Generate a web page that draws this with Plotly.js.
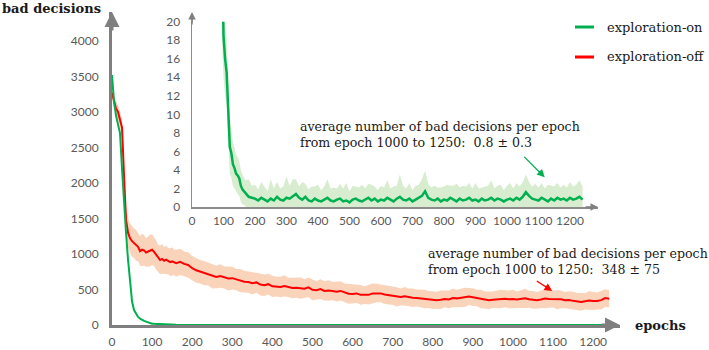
<!DOCTYPE html>
<html>
<head>
<meta charset="utf-8">
<script src="https://cdn.plot.ly/plotly-3.0.1.min.js"></script>
<style>
  html, body { margin: 0; padding: 0; background: #fff; }
  #plot { width: 709px; height: 350px; }
</style>
</head>
<body>
<div id="plot"></div>
<script>
// epochs sampled (denser where the curves fall fast)
var epochs = [0, 5, 10, 15, 20, 25, 30, 35, 40, 45, 50, 55, 60, 65, 70, 75, 80, 85, 90, 95,
  100, 105, 110, 115, 120, 125, 130, 135, 140, 145, 150, 155, 160, 170, 180, 190,
  200, 210, 220, 230, 240, 250, 260, 270, 280, 290, 300, 310, 320, 330, 340, 350, 360, 370, 380, 390,
  400, 410, 420, 430, 440, 450, 460, 470, 480, 490, 500, 510, 520, 530, 540, 550, 560, 570, 580, 590,
  600, 610, 620, 630, 640, 650, 660, 670, 680, 690, 700, 710, 720, 730, 740, 750, 760, 770, 780, 790,
  800, 810, 820, 830, 840, 850, 860, 870, 880, 890, 900, 910, 920, 930, 940, 950, 960, 970, 980, 990,
  1000, 1010, 1020, 1030, 1040, 1050, 1060, 1070, 1080, 1090, 1100, 1110, 1120, 1130, 1140, 1150, 1160, 1170, 1180, 1190,
  1200, 1210, 1220, 1230, 1240];

// exploration-off: mean and half-width of the shaded band
var expOff = [3270, 3150, 3050, 3000, 2900, 2780, 2100, 1480, 1300, 1220, 1180, 1150, 1120, 1100, 1040, 1060, 1050, 1020, 1035, 1050,
  1060, 1030, 990, 940, 915, 930, 905, 920, 900, 885, 895, 880, 870, 890, 860, 845,
  800, 770, 750, 730, 720, 690, 676, 690, 670, 655, 660, 640, 625, 610, 605, 590, 600, 570, 560, 575,
  545, 540, 535, 550, 530, 520, 525, 520, 510, 530, 495, 490, 505, 480, 485, 478, 470, 480, 455, 440,
  437, 445, 425, 420, 425, 445, 450, 445, 430, 420, 410, 395, 394, 405, 390, 385, 380, 375, 365, 360,
  352, 350, 355, 365, 360, 380, 375, 385, 390, 400, 392, 380, 365, 352, 348, 356, 360, 365, 370, 362,
  366, 358, 366, 375, 362, 355, 350, 360, 372, 365, 366, 358, 362, 350, 352, 340, 330, 324, 335, 345,
  338, 338, 350, 380, 370];
var expOffSpread = [90, 95, 100, 100, 110, 120, 150, 190, 200, 210, 215, 205, 220, 200, 210, 230, 215, 200, 210, 225,
  215, 200, 205, 190, 200, 210, 190, 200, 185, 195, 200, 180, 190, 185, 175, 180,
  170, 175, 165, 170, 160, 175, 160, 165, 155, 170, 160, 150, 165, 155, 150, 160, 145, 155, 150, 145,
  150, 140, 145, 150, 135, 145, 140, 150, 135, 140, 145, 130, 140, 135, 145, 130, 140, 135, 130, 140,
  135, 130, 140, 125, 135, 140, 130, 125, 135, 130, 125, 135, 120, 130, 125, 130, 120, 125, 130, 120,
  125, 120, 130, 115, 125, 130, 120, 125, 135, 120, 125, 115, 130, 120, 125, 115, 125, 130, 120, 125,
  130, 115, 125, 135, 120, 125, 115, 120, 130, 125, 120, 135, 125, 115, 125, 130, 120, 125, 115, 130,
  125, 120, 130, 125, 120];

// exploration-on: mean and half-width of the shaded band
var expOn = [3520, 3150, 2950, 2820, 2700, 2200, 1700, 1300, 920, 560, 330, 210, 150, 113, 88, 70, 58, 48, 38, 24,
  18.5, 16, 14.5, 10.5, 6.5, 5.8, 4.6, 4.2, 3.6, 3.4, 3.1, 2.3, 1.9, 1.5, 1.1, 1.0,
  0.9, 0.7, 1.0, 0.8, 0.6, 0.9, 0.7, 1.1, 0.8, 0.7, 1.0, 0.9, 1.2, 1.4, 1.0, 0.8, 1.1, 0.7, 0.6, 0.9,
  0.7, 0.6, 0.8, 1.0, 0.7, 0.6, 0.8, 0.9, 0.6, 0.7, 0.5, 0.8, 0.9, 0.7, 0.6, 0.8, 1.0, 0.7, 0.9, 0.6,
  0.8, 0.7, 1.0, 0.8, 0.6, 0.9, 1.1, 0.8, 0.7, 0.9, 0.6, 0.8, 1.0, 1.2, 1.7, 1.0, 0.8, 0.7, 0.9, 0.6,
  0.8, 0.7, 1.0, 0.8, 0.6, 0.9, 0.7, 0.8, 1.0, 0.7, 0.8, 0.6, 0.9, 0.7, 0.8, 1.0, 0.7, 0.9, 0.8, 0.6,
  0.8, 0.9, 0.7, 1.0, 0.8, 1.1, 1.6, 1.2, 0.9, 0.8, 0.7, 1.0, 0.8, 0.6, 0.9, 0.7, 1.0, 0.8, 0.9, 0.7,
  1.0, 0.8, 0.9, 1.1, 0.8];
var expOnSpread = [80, 90, 90, 100, 120, 150, 150, 120, 100, 80, 60, 40, 30, 25, 20, 15, 12, 10, 8, 6,
  4.5, 4, 3.5, 3.5, 3, 2.6, 2.4, 2.2, 2.0, 2.0, 1.9, 1.7, 1.6, 1.4, 1.9, 1.3,
  1.5, 1.2, 1.7, 1.4, 1.1, 2.1, 1.3, 1.6, 1.2, 1.5, 2.3, 1.4, 1.8, 1.6, 1.2, 1.9, 1.4, 1.2, 1.6, 1.3,
  1.7, 1.2, 1.4, 2.0, 1.3, 1.5, 1.2, 1.6, 1.4, 1.9, 1.2, 1.5, 1.3, 1.4, 1.8, 1.2, 1.5, 1.7, 1.3, 1.2,
  1.5, 1.4, 1.9, 1.2, 1.6, 1.4, 2.4, 1.5, 1.3, 1.7, 1.2, 1.5, 1.4, 1.8, 2.2, 1.5, 1.3, 1.6, 1.2, 1.5,
  1.4, 1.7, 1.3, 1.5, 1.9, 1.2, 1.6, 1.4, 1.6, 1.3, 1.8, 1.4, 1.2, 1.5, 1.5, 1.9, 1.3, 1.4, 1.6, 1.2,
  1.5, 1.7, 1.3, 1.6, 1.4, 1.6, 1.9, 1.5, 1.3, 1.7, 1.4, 1.6, 1.2, 1.8, 1.4, 1.5, 1.6, 1.3, 1.5, 1.4,
  1.7, 1.4, 1.5, 1.8, 1.4];

var xTicks = [0, 100, 200, 300, 400, 500, 600, 700, 800, 900, 1000, 1100, 1200];
var mainYTicks = [0, 500, 1000, 1500, 2000, 2500, 3000, 3500, 4000];
var insetYTicks = [0, 2, 4, 6, 8, 10, 12, 14, 16, 18, 20];

var offLo = expOff.map(function (v, i) { return v - expOffSpread[i]; });
var offHi = expOff.map(function (v, i) { return v + expOffSpread[i]; });
var onLo = expOn.map(function (v, i) { return v - expOnSpread[i]; });
var onHi = expOn.map(function (v, i) { return v + expOnSpread[i]; });

var RED = '#ff0000';
var GREEN = '#00b050';
var tickFont = { family: 'Lato, "Open Sans", sans-serif', size: 12, color: '#595959' };
var serif = '"DejaVu Serif", "Liberation Serif", serif';

var data = [
  { x: epochs, y: offLo, mode: 'lines', line: { width: 0 }, hoverinfo: 'skip', xaxis: 'x', yaxis: 'y' },
  { x: epochs, y: offHi, mode: 'lines', line: { width: 0 }, fill: 'tonexty',
    fillcolor: 'rgba(244,177,131,0.55)', hoverinfo: 'skip', xaxis: 'x', yaxis: 'y' },
  { x: epochs, y: expOff, mode: 'lines', name: 'exploration-off',
    line: { color: RED, width: 2 }, xaxis: 'x', yaxis: 'y' },
  { x: epochs, y: expOn, mode: 'lines', name: 'exploration-on',
    line: { color: GREEN, width: 2 }, xaxis: 'x', yaxis: 'y' },

  // inset: same exploration-on run, zoomed to 0-20
  { x: epochs, y: onLo, mode: 'lines', line: { width: 0 }, hoverinfo: 'skip', xaxis: 'x2', yaxis: 'y2' },
  { x: epochs, y: onHi, mode: 'lines', line: { width: 0 }, fill: 'tonexty',
    fillcolor: 'rgba(169,215,150,0.45)', hoverinfo: 'skip', xaxis: 'x2', yaxis: 'y2' },
  { x: epochs, y: expOn, mode: 'lines', line: { color: GREEN, width: 2.5 }, xaxis: 'x2', yaxis: 'y2' }
];

function axisArrow(x, y, ax, ay, w) {
  return { xref: 'paper', yref: 'paper', x: x, y: y, ax: ax, ay: ay, text: '',
    showarrow: true, arrowhead: 2, arrowsize: 1, arrowwidth: w, arrowcolor: '#7f7f7f', standoff: 0 };
}

function label(x, y, text, size) {
  return { xref: 'paper', yref: 'paper', x: x, y: y, xanchor: 'left', yanchor: 'middle', showarrow: false,
    align: 'left', text: text, font: { family: serif, size: size, color: '#1a1a1a' } };
}

var layout = {
  width: 709,
  height: 350,
  margin: { l: 0, r: 0, t: 0, b: 0 },
  showlegend: false,
  paper_bgcolor: 'white',
  plot_bgcolor: 'rgba(0,0,0,0)',
  xaxis: {
    domain: [112 / 709, 620 / 709], range: [0, 1267], anchor: 'y',
    tickvals: xTicks, ticks: '', ticklabelstandoff: 4, tickfont: tickFont,
    showgrid: false, zeroline: false, showline: true, linecolor: '#7f7f7f', linewidth: 3
  },
  yaxis: {
    domain: [25 / 350, 338 / 350], range: [0, 4408], anchor: 'x',
    tickvals: mainYTicks, ticks: '', ticklabelstandoff: 8, tickfont: tickFont,
    showgrid: false, zeroline: false, showline: true, linecolor: '#7f7f7f', linewidth: 3
  },
  xaxis2: {
    domain: [192 / 709, 598 / 709], range: [0, 1289], anchor: 'y2',
    tickvals: xTicks, ticks: '', ticklabelstandoff: 2, tickfont: tickFont,
    showgrid: false, zeroline: false, showline: true, linecolor: '#8c8c8c', linewidth: 1.5
  },
  yaxis2: {
    domain: [143 / 350, 328.3 / 350], range: [0, 20], anchor: 'x2',
    tickvals: insetYTicks, ticks: '', ticklabelstandoff: 8, tickfont: tickFont,
    showgrid: false, zeroline: false, showline: true, linecolor: '#8c8c8c', linewidth: 1.5
  },
  shapes: [
    { type: 'line', xref: 'paper', yref: 'paper', x0: 575 / 709, x1: 594 / 709, y0: 323 / 350, y1: 323 / 350,
      line: { color: GREEN, width: 3 } },
    { type: 'line', xref: 'paper', yref: 'paper', x0: 575 / 709, x1: 594 / 709, y0: 293 / 350, y1: 293 / 350,
      line: { color: RED, width: 3 } },
    // inset y axis continues up to its arrow
    { type: 'line', xref: 'paper', yref: 'paper', x0: 192 / 709, x1: 192 / 709, y0: 328 / 350, y1: 334 / 350,
      line: { color: '#8c8c8c', width: 1.5 } }
  ],
  annotations: [
    axisArrow(620 / 709, 25 / 350, -20, 0, 3),
    axisArrow(112 / 709, 338 / 350, 0, 20, 3),
    axisArrow(598 / 709, 143 / 350, -14, 0, 1.5),
    axisArrow(192 / 709, 338 / 350, 0, 14, 1.5),
    label(0, 342 / 350, '<b>bad decisions</b>', 13),
    label(633 / 709, 25 / 350, '<b>epochs</b>', 13),
    label(605 / 709, 323 / 350, 'exploration-on', 13),
    label(605 / 709, 293 / 350, 'exploration-off', 13),
    label(298 / 709, 216 / 350, 'average number of bad decisions per epoch<br>from epoch 1000 to 1250:  0.8 ± 0.3', 12.6),
    label(426 / 709, 88.5 / 350, 'average number of bad decisions per epoch<br>from epoch 1000 to 1250:  348 ± 75', 12.6),
    { xref: 'x2', yref: 'y2', x: 1120, y: 3.2, ax: -22, ay: -22, text: '', showarrow: true,
      arrowhead: 2, arrowsize: 1.2, arrowwidth: 1.3, arrowcolor: GREEN, standoff: 0 },
    { xref: 'x', yref: 'y', x: 1098, y: 479, ax: -17, ay: -11, text: '', showarrow: true,
      arrowhead: 2, arrowsize: 1.2, arrowwidth: 1.3, arrowcolor: RED, standoff: 0 }
  ]
};

Plotly.newPlot('plot', data, layout, { staticPlot: true });
</script>
</body>
</html>
